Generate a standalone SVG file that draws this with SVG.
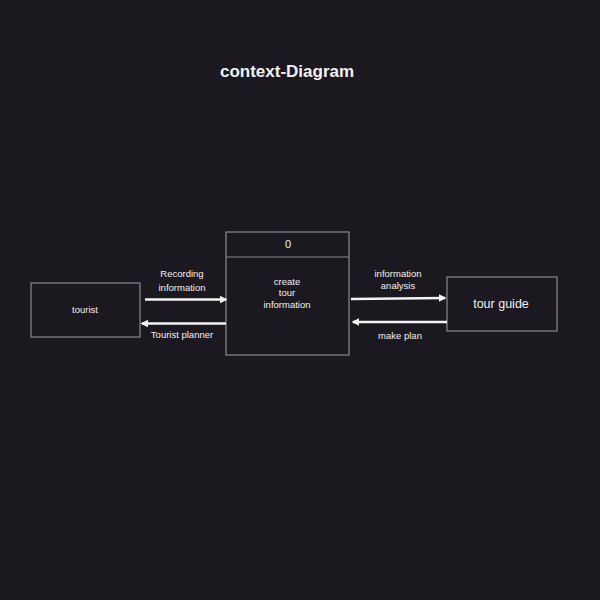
<svg xmlns="http://www.w3.org/2000/svg" width="600" height="600" viewBox="0 0 600 600">
<style>
.box{fill:none;stroke:#8c8a90;stroke-width:1.2}
.t{fill:#f2f2f2;font-family:"Liberation Sans","DejaVu Sans",sans-serif;text-anchor:middle}
.s{font-size:9.5px}
.a{stroke:#f4f4f4;stroke-width:2.6;fill:none;marker-end:url(#ah)}
</style>
<defs>
<marker id="ah" viewBox="0 0 10 10" refX="8" refY="5" markerWidth="3" markerHeight="3" orient="auto-start-reverse" markerUnits="strokeWidth">
<path d="M0,0 L10,5 L0,10 z" fill="#f4f4f4"/>
</marker>
</defs>
<rect width="600" height="600" fill="#1b1820"/>
<text class="t" x="287" y="77" font-size="17" font-weight="bold">context-Diagram</text>
<g id="tourist">
<rect class="box" x="31" y="283" width="109" height="54"/>
<text class="t s" x="85" y="313">tourist</text>
</g>
<g id="process">
<rect class="box" x="226" y="232" width="123" height="123"/>
<line class="box" x1="226" y1="257" x2="349" y2="257"/>
<text class="t" x="288" y="248" font-size="11">0</text>
<text class="t s" x="287" y="285">create</text>
<text class="t s" x="287" y="296">tour</text>
<text class="t s" x="287" y="308">information</text>
</g>
<g id="tourguide">
<rect class="box" x="447" y="277" width="110" height="54"/>
<text class="t" x="501" y="308" font-size="12.5">tour guide</text>
</g>
<g id="connectors">
<line class="a" x1="145" y1="299.5" x2="226" y2="299.5"/>
<text class="t s" x="182" y="277">Recording</text>
<text class="t s" x="182" y="291">information</text>
<line class="a" x1="226" y1="323.5" x2="142" y2="323.5"/>
<text class="t s" x="182" y="338">Tourist planner</text>
<line class="a" x1="351" y1="299" x2="445" y2="298"/>
<text class="t s" x="398" y="277">information</text>
<text class="t s" x="398" y="289">analysis</text>
<line class="a" x1="447" y1="322" x2="353" y2="322"/>
<text class="t s" x="400" y="339">make plan</text>
</g>
</svg>
